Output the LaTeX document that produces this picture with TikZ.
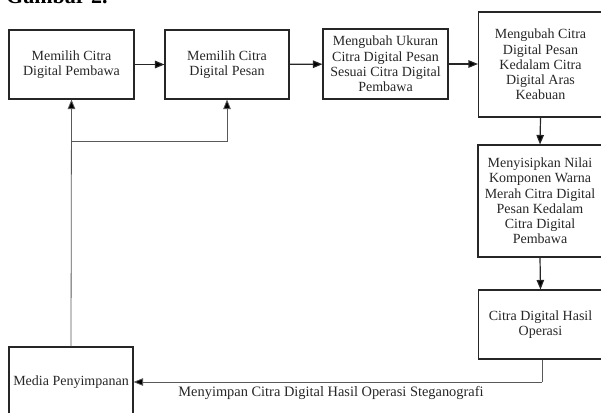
\documentclass[tikz,border=0pt]{standalone}
\usepackage{fontspec}
\setmainfont{Liberation Serif}
\usetikzlibrary{arrows.meta}
\begin{document}
\begin{tikzpicture}[x=1pt,y=-1pt,
  box/.style={draw=black!85,line width=1.1pt,align=center,inner sep=1pt,
    font=\fontsize{14}{15.2}\selectfont,text=black!85},
  tip/.style={-{Triangle[length=9.5pt,width=7.5pt,fill=black]}},
  arr/.style={draw=black!85,line width=1.2pt,tip},
  thin/.style={draw=black!65,line width=0.8pt},
  tarr/.style={thin,tip},
  lbl/.style={font=\fontsize{14.4}{15}\selectfont,text=black!85,inner sep=0pt}]
\useasboundingbox (0,0) rectangle (601,412);
\clip (0,0) rectangle (601,412);
\node[anchor=base west,inner sep=0pt,font=\bfseries\fontsize{22}{24}\selectfont] (title) at (6,3.5) {Gambar 2.};
\node[box,minimum width=125pt,minimum height=69pt] (b1) at (71.5,64.5) {Memilih Citra\\Digital Pembawa};
\node[box,minimum width=124pt,minimum height=69pt] (b2) at (227,64.5) {Memilih Citra\\Digital Pesan};
\node[box,minimum width=125pt,minimum height=70pt] (b3) at (385.5,64) {Mengubah Ukuran\\Citra Digital Pesan\\Sesuai Citra Digital\\Pembawa};
\node[box,minimum width=124pt,minimum height=105pt] (b4) at (540.5,64.5) {Mengubah Citra\\Digital Pesan\\Kedalam Citra\\Digital Aras\\Keabuan};
\node[box,minimum width=124pt,minimum height=112pt] (b5) at (540,201) {Menyisipkan Nilai\\Komponen Warna\\Merah Citra Digital\\Pesan Kedalam\\Citra Digital\\Pembawa};
\node[box,minimum width=124pt,minimum height=69pt] (b6) at (540.5,324.5) {Citra Digital Hasil\\Operasi};
\node[box,minimum width=124pt,minimum height=70pt] (media) at (71,382) {Media Penyimpanan};
\draw[arr] (b1) -- (b2);
\draw[arr] (b2) -- (b3);
\draw[arr] (b3.east |- 0,64) -- (b4.west |- 0,64);
\draw[arr] (b4.south) -- (b5.north);
\draw[arr] (b5.south) -- (b6.north);
\coordinate (turn) at (542,382);
\draw[thin] (b6.south -| turn) -- (turn);
\draw[tarr] (turn) -- (media.east);
\node[lbl] (save) at (331,392.5) {Menyimpan Citra Digital Hasil Operasi Steganografi};
\draw[tarr] (media.north) -- (b1.south);
\coordinate (j) at (71,141);
\draw[tarr] (j) -| (b2.south);
\end{tikzpicture}
\end{document}
